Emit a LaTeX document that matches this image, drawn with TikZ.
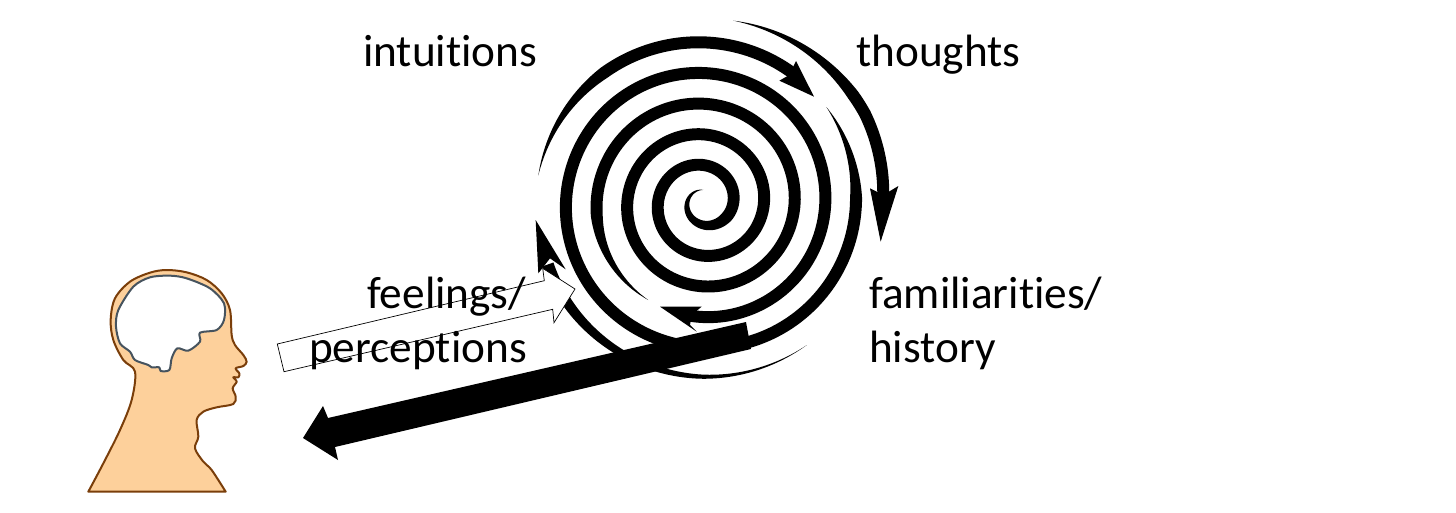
\documentclass[tikz,border=0pt]{standalone}
\usepackage{fontspec}
\setmainfont[Ligatures=NoCommon]{Carlito}
\newcommand{\spiralband}[4]{%
  \fill[black] plot[domain=#1:#2,samples=260,variable=\t,smooth]
    ({703.3+((#3)+(#4)/2)*sin(360*\t)},{202.7+((#3)+(#4)/2)*cos(360*\t)})
    -- plot[domain=#2:#1,samples=260,variable=\t,smooth]
    ({703.3+((#3)-(#4)/2)*sin(360*\t)},{202.7+((#3)-(#4)/2)*cos(360*\t)}) -- cycle;}
\tikzset{lbl/.style={anchor=base west,font=\fontsize{45.3}{45.3}\selectfont,inner sep=0pt,text=black},
  zoomA/.style={shift={(500,0)},x=0.33333pt,y=-0.33333pt},
  zoomB/.style={shift={(70,260)},x=0.33333pt,y=-0.33333pt}}
\begin{document}
\begin{tikzpicture}[x=1pt,y=-1pt]
\useasboundingbox (0,0) rectangle (1456,512);
\fill[white] (0,0) rectangle (1456,512);
% head
\begin{scope}[zoomB]
\draw[draw={rgb,255:red,122;green,62;blue,10},fill={rgb,255:red,253;green,208;blue,155},line width=2pt,line join=round]
 (55,695) -- plot[smooth,tension=0.55] coordinates {(55,695) (100,610) (150,510) (185,420) (195,335) (160,300) (130,240) (122,180) (135,115) (180,65) (240,38) (290,30) (350,37) (410,60) (455,100) (480,150) (485,225) (495,255) (520,285) (530,305) (520,318) (497,325) (508,340) (505,352) (490,352) (500,365) (488,385) (497,410) (490,432) (440,442) (400,455) (380,480) (385,530) (375,565) (400,605) (425,630) (467,695)} -- cycle;
\draw[draw={rgb,255:red,70;green,83;blue,94},fill=white,line width=2pt,line join=round]
 plot[smooth cycle,tension=0.5] coordinates {(145,150) (138,200) (150,250) (180,275) (195,300) (235,315) (245,322) (268,322) (272,333) (298,330) (305,295) (322,265) (355,272) (390,245) (390,218) (440,210) (462,180) (462,130) (420,85) (350,55) (300,47) (240,52) (190,80)};
\end{scope}
% spiral
\spiralband{-0.5}{2.918}{22.33+30.67*\t+(\t<0)*23*\t*\t}{12*min(1,min((\t+0.5)*1.5,(2.918-\t)/0.15))}
\spiralband{2.98}{4.355}{22.33+30.67*\t}{12*min(1,(4.355-\t)/0.1)}
\spiralband{4.40}{4.724}{22.33+30.67*\t}{12*min(1,(4.724-\t)/0.12)}
\spiralband{0.25}{0.474}{180+min(4.5,(\t-0.255)*60)}{12*min(1,(0.474-\t)/0.125)}
\spiralband{-0.19}{0.10}{174+20*\t+(\t<0)*15*\t}{12*(0.10-\t)/0.29}
\begin{scope}[zoomA]
\fill[black] (942,290) -- (888,183) -- (868,225) -- (838,242) -- cycle;
\fill[black] (1142,725) -- (1195,558) -- (1150,585) -- (1110,565) -- cycle;
\fill[black] (480,920) -- (605,920) -- (575,945) -- (570,975) -- (590,995) -- cycle;
\fill[black] (107,660) -- (197,808) -- (150,775) -- (115,820) -- cycle;
\end{scope}
% white arrow
\draw[fill=white,draw=black,line width=0.7pt,line join=miter] (277.3,344) -- (284,371.7) -- (552.7,309.3) -- (554,322.7) -- (575,289) -- (542.7,268.3) -- (544.3,280.7) -- cycle;
% black arrow
\fill[black] (746,322) -- (328,418) -- (323,406) -- (303,438) -- (338,460) -- (335,447) -- (751,349) -- cycle;
% labels
\node[lbl] (intuitions) at (363,66) {intuitions};
\node[lbl] (thoughts) at (856,66) {thoughts};
\node[lbl] (feelings) at (367,308) {feelings/};
\node[lbl] (perceptions) at (309,362) {perceptions};
\node[lbl] (familiarities) at (869,308) {familiarities/};
\node[lbl] (history) at (869,362) {history};
\end{tikzpicture}
\end{document}
